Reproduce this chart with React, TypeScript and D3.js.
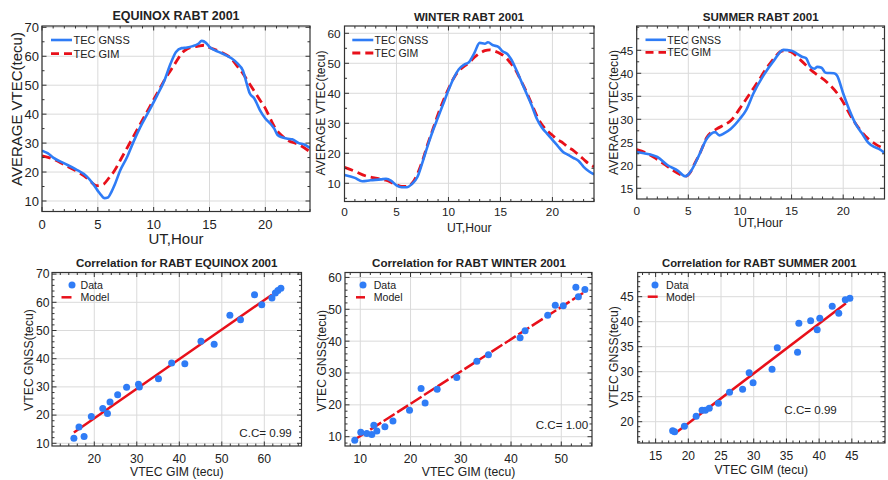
import React from "react";
import * as d3 from "d3";

// ---------------- DATA ----------------
const hourTicks = [0, 5, 10, 15, 20];

// Equinox
const eqGnssHour = [0,0.5,1,2,3,4,4.5,5,5.3,5.6,5.9,6.2,6.5,7,7.6,8.2,8.8,9.5,10.3,11,11.5,12,12.5,13,13.5,14,14.3,14.7,15,15.5,16,16.5,17,17.5,18,18.3,18.6,19,19.5,20,20.5,20.8,21.1,21.5,22,22.4,23,23.5,24];
const eqGnss = [27.4,26.5,25,23,21,18.5,16.3,13.5,12,11,11.2,13,15.5,20.5,25,30.5,35.5,40.5,46.4,52,57.3,61.5,62.8,63,63.5,64.3,65.3,64.6,63.2,62,61.2,60.3,59.2,57.5,55,51,47.2,45.5,41.5,38.5,36.5,35,32.8,32,31.5,31.3,30,29.5,28.3];
const eqGimHour = [0,1,2,3,4,4.5,4.9,5.5,6,6.5,7,8,9,10,10.5,11,11.5,12,12.5,13,14,14.5,15,16,17,17.5,18,18.5,19,19.5,20,20.5,21,21.5,22,23,24];
const eqGim = [25.6,24.5,22.5,20.5,18,16.2,15.3,15.8,18,20.5,24,31,38,45,48.5,52,55,58,61,62.5,63.5,63.8,63,61.5,59,56.5,54,51,48,45,42,38,34.5,32.5,31,29.5,27];
const eqYTicks = [10, 20, 30, 40, 50, 60, 70];

// Winter
const wiGnssHour = [0,1,1.7,2.5,3.5,4,4.5,5,5.5,6,6.5,7,7.5,8,8.5,9,9.5,10,10.5,11,11.5,12,12.5,13,13.5,13.8,14.3,14.8,15.2,15.7,16,16.5,17,17.5,18,18.5,19,19.5,20,20.5,21,21.5,22,22.5,23,23.5,24];
const wiGnss = [12.8,11.8,10.7,11,11.3,11.5,10.8,9.3,8.7,8.7,9.8,12,17,22.5,27.5,32,36.5,41,45,48,49.5,50.5,53.5,56.8,56.5,57,56,55.5,54,53,51.5,48,44,40,36,31.5,28.5,26.5,24.5,22.5,20.5,19.5,18.5,17.5,15.5,14,13];
const wiGimHour = [0,1,2,3,4,5,5.5,6,6.5,7,7.5,8,8.5,9,9.5,10,10.5,11,11.5,12,12.5,13,13.5,14,14.5,15,15.5,16,16.5,17,17.5,18,18.5,19,19.5,20,20.5,21,21.5,22,22.5,23,23.5,24];
const wiGim = [15.3,14,12.5,11.7,11,9.5,9,9,10,13,17.5,23,28,33,37.5,41.5,45,47.5,49,50.2,52,53.3,54.2,54.5,54,53.2,52,50,47.5,44,40.5,36.5,32.5,29.5,27.5,26,24.5,23.5,22,21,19.5,18,16.5,15.5];
const wiYTicks = [10, 20, 30, 40, 50, 60];

// Summer
const suGnssHour = [0,0.7,1.4,2,3,4,4.7,5,5.3,6,6.8,7.6,8,8.5,9.1,10,10.6,11.3,12.3,13.3,14.2,15,15.5,16,16.4,16.8,17.2,17.5,17.9,18.3,19.1,19.4,20,20.6,21.2,21.8,22.4,23,23.5,24];
const suGnss = [22.9,22.6,22.3,21.8,20,18.8,17.6,18,18.9,22,25.8,27.2,26.5,27,27.9,30.1,32,35.6,39.6,42.8,45.1,44.9,44.3,43.6,43.3,41.5,41,41.4,41.2,40.1,40,39.5,35.6,32,29,27,25,24,23.5,22.7];
const suGimHour = [0,1,1.9,2.7,3.5,4.2,4.7,5.2,5.6,6.2,6.8,7.75,8.5,9.1,10.3,11.6,12.9,14.2,14.9,15.9,17.1,18.4,19.7,21,22.4,23.2,24];
const suGim = [23.4,22.6,21.4,20.2,18.9,18,17.6,18.5,20.3,23,26.1,27.9,28.8,29.7,33.4,37.7,42.1,44.9,44.7,42.8,40.3,38.1,34.8,29.7,25.8,24.5,23.6];
const suYTicks = [15, 20, 25, 30, 35, 40, 45];

// Correlation scatter: GIM (x) vs GNSS (y)
const eqScatGim = [15.2,16.4,17.6,19.3,22,23.1,23.7,25.5,27.6,30.4,30.6,35.1,38.2,41.3,45.1,48.2,51.9,54.4,57.7,59.4,61.8,62.6,63.2,63.9];
const eqScatGnss = [11.8,15.8,12.4,19.5,22.3,20.6,24.6,27.2,29.9,30.9,30,32.9,38.5,38.2,46.2,45.1,55.4,53.8,62.7,59.1,61.5,63.3,64.2,65];
const eqModelX = [15.2, 61.8];
const eqModelY = [13.8, 62.7];
const eqScatXTicks = [20, 30, 40, 50, 60];
const eqScatYTicks = [10, 20, 30, 40, 50, 60, 70];

const wiScatGim = [8.9,10.1,11.3,12.3,12.7,13.3,14.9,16.5,19.8,22.1,22.9,25.3,29.2,33.2,35.5,41.8,42.8,47.3,48.8,50.4,52.9,53.4,54.7];
const wiScatGnss = [8.9,11.4,11,10.7,13.6,11.8,13.1,14.9,18.3,25.1,20.6,24.9,28.6,33.7,35.7,41.1,43.3,48.1,51.3,51.1,56.9,53.9,56.2];
const wiModelX = [9.3, 54.5];
const wiModelY = [9.5, 55.3];
const wiScatXTicks = [10, 20, 30, 40, 50];
const wiScatYTicks = [10, 20, 30, 40, 50, 60];

const suScatGim = [17.6,17.9,19.4,21.2,22.1,22.6,23.2,24.6,26.3,28.3,29.3,29.9,32.8,33.6,36.7,36.9,38.7,39.7,40.1,42,43,44,44.7];
const suScatGnss = [18.2,18,19.1,21.1,22.3,22.3,22.7,23.7,25.9,26.5,29.8,27.8,30.5,34.8,33.9,39.7,40.2,38.4,40.7,43.1,41.7,44.4,44.7];
const suModelX = [18.2, 44.1];
const suModelY = [17.9, 43.7];
const suScatXTicks = [15, 20, 25, 30, 35, 40, 45];
const suScatYTicks = [20, 25, 30, 35, 40, 45];

// ---------------- STYLE ----------------
const FONT = "'Liberation Sans', Arial, Helvetica, sans-serif";
const BLUE = "#2f7cf6";
const RED = "#e8101a";
const TXT = "#222";
const GRID = "#dadada";
const FRAME = "#333";

type Cfg = {
  id: string;
  l: number; r: number; t: number; b: number;
  xDom: [number, number]; yDom: [number, number];
  xTicks: number[]; yTicks: number[];
  xMinor: number; yMinor: number;
  title: string; titleX: number; titleY: number; titleFont: number;
  xLabel: string; xLabelY: number;
  yLabel: string; yLabelX: number; yLabelY: number; labelFont: number;
  tickFont: number; xTickY: number; yTickGap: number;
};

function Axes({ cfg, children }: { cfg: Cfg; children: (x: any, y: any) => React.ReactNode }) {
  const x = d3.scaleLinear().domain(cfg.xDom).range([cfg.l, cfg.r]);
  const y = d3.scaleLinear().domain(cfg.yDom).range([cfg.b, cfg.t]);
  const xMinorT = d3.range(Math.ceil(cfg.xDom[0] / cfg.xMinor) * cfg.xMinor, cfg.xDom[1] + 1e-9, cfg.xMinor);
  const yMinorT = d3.range(Math.ceil(cfg.yDom[0] / cfg.yMinor) * cfg.yMinor, cfg.yDom[1] + 1e-9, cfg.yMinor);
  const maj = 4.5, mnr = 2.5;
  return (
    <g fontFamily={FONT} fill={TXT}>
      <defs>
        <clipPath id={"clip-" + cfg.id}>
          <rect x={cfg.l} y={cfg.t} width={cfg.r - cfg.l} height={cfg.b - cfg.t} />
        </clipPath>
      </defs>
      {cfg.xTicks.map((v) => (
        <line key={"gx" + v} x1={x(v)} x2={x(v)} y1={cfg.t} y2={cfg.b} stroke={GRID} strokeWidth={1} />
      ))}
      {cfg.yTicks.map((v) => (
        <line key={"gy" + v} x1={cfg.l} x2={cfg.r} y1={y(v)} y2={y(v)} stroke={GRID} strokeWidth={1} />
      ))}
      <g clipPath={`url(#clip-${cfg.id})`}>{children(x, y)}</g>
      <rect x={cfg.l} y={cfg.t} width={cfg.r - cfg.l} height={cfg.b - cfg.t} fill="none" stroke={FRAME} strokeWidth={1.2} />
      <g stroke={FRAME} strokeWidth={1}>
        {xMinorT.map((v, i) => {
          const len = cfg.xTicks.some((m) => Math.abs(m - v) < 1e-6) ? maj : mnr;
          return (
            <g key={"tx" + i}>
              <line x1={x(v)} x2={x(v)} y1={cfg.b} y2={cfg.b - len} />
              <line x1={x(v)} x2={x(v)} y1={cfg.t} y2={cfg.t + len} />
            </g>
          );
        })}
        {yMinorT.map((v, i) => {
          const len = cfg.yTicks.some((m) => Math.abs(m - v) < 1e-6) ? maj : mnr;
          return (
            <g key={"ty" + i}>
              <line x1={cfg.l} x2={cfg.l + len} y1={y(v)} y2={y(v)} />
              <line x1={cfg.r} x2={cfg.r - len} y1={y(v)} y2={y(v)} />
            </g>
          );
        })}
      </g>
      <g fontSize={cfg.tickFont}>
        {cfg.xTicks.map((v) => (
          <text key={"lx" + v} x={x(v)} y={cfg.xTickY} textAnchor="middle">{v}</text>
        ))}
        {cfg.yTicks.map((v) => (
          <text key={"ly" + v} x={cfg.l - cfg.yTickGap} y={y(v)} dy="0.36em" textAnchor="end">{v}</text>
        ))}
      </g>
      <text x={cfg.titleX} y={cfg.titleY} textAnchor="middle" fontWeight="bold" fontSize={cfg.titleFont}>{cfg.title}</text>
      <text x={(cfg.l + cfg.r) / 2} y={cfg.xLabelY} textAnchor="middle" fontSize={cfg.labelFont}>{cfg.xLabel}</text>
      <text transform={`translate(${cfg.yLabelX},${cfg.yLabelY}) rotate(-90)`} dy="0.36em" textAnchor="middle" fontSize={cfg.labelFont}>{cfg.yLabel}</text>
    </g>
  );
}

function TimePanel({ cfg, gH, gV, mH, mV, leg }: { cfg: Cfg; gH: number[]; gV: number[]; mH: number[]; mV: number[]; leg: { x1: number; x2: number; y1: number; y2: number; tx: number; fs: number } }) {
  return (
    <g>
      <Axes cfg={cfg}>
        {(x, y) => {
          const line = d3.line<number>().x((d: any, i: number) => x(d)).curve(d3.curveMonotoneX);
          const gPath = d3.line<number>().x((d, i) => x(gH[i])).y((d) => y(d)).curve(d3.curveMonotoneX)(gV) || "";
          const mPath = d3.line<number>().x((d, i) => x(mH[i])).y((d) => y(d)).curve(d3.curveMonotoneX)(mV) || "";
          void line;
          return (
            <g fill="none">
              <path d={mPath} stroke={RED} strokeWidth={2.8} strokeDasharray="9 5" />
              <path d={gPath} stroke={BLUE} strokeWidth={2.6} strokeLinejoin="round" />
            </g>
          );
        }}
      </Axes>
      <g fontFamily={FONT} fontSize={leg.fs} fill={TXT}>
        <line x1={leg.x1} x2={leg.x2} y1={leg.y1} y2={leg.y1} stroke={BLUE} strokeWidth={2.6} />
        <text x={leg.tx} y={leg.y1} dy="0.36em">TEC GNSS</text>
        <line x1={leg.x1} x2={leg.x2} y1={leg.y2} y2={leg.y2} stroke={RED} strokeWidth={2.8} strokeDasharray="8 5" />
        <text x={leg.tx} y={leg.y2} dy="0.36em">TEC GIM</text>
      </g>
    </g>
  );
}

function ScatterPanel({ cfg, xs, ys, mx, my, dash, leg, cc }: { cfg: Cfg; xs: number[]; ys: number[]; mx: number[]; my: number[]; dash?: string; leg: { dx: number; dy: number; lx1: number; lx2: number; ly: number; tx: number; fs: number }; cc: { x: number; y: number; text: string; fs: number } }) {
  return (
    <g>
      <Axes cfg={cfg}>
        {(x, y) => (
          <g>
            <line x1={x(mx[0])} y1={y(my[0])} x2={x(mx[1])} y2={y(my[1])} stroke={RED} strokeWidth={2.5} strokeDasharray={dash} />
            {xs.map((v, i) => (
              <circle key={i} cx={x(v)} cy={y(ys[i])} r={3.5} fill={BLUE} />
            ))}
          </g>
        )}
      </Axes>
      <g fontFamily={FONT} fontSize={leg.fs} fill={TXT}>
        <circle cx={leg.dx} cy={leg.dy} r={3.5} fill={BLUE} />
        <text x={leg.tx} y={leg.dy} dy="0.36em">Data</text>
        <line x1={leg.lx1} x2={leg.lx2} y1={leg.ly} y2={leg.ly} stroke={RED} strokeWidth={2.5} strokeDasharray={dash} />
        <text x={leg.tx} y={leg.ly} dy="0.36em">Model</text>
      </g>
      <text x={cc.x} y={cc.y} fontFamily={FONT} fontSize={cc.fs} fill={TXT}>{cc.text}</text>
    </g>
  );
}

const p1: Cfg = {
  id: "p1", l: 42, r: 310, t: 26, b: 211.5, xDom: [0, 24], yDom: [6.37, 70.45],
  xTicks: hourTicks, yTicks: eqYTicks, xMinor: 1, yMinor: 5,
  title: "EQUINOX RABT 2001", titleX: 176, titleY: 20, titleFont: 12.5,
  xLabel: "UT,Hour", xLabelY: 244, yLabel: "AVERAGE VTEC(tecu)", yLabelX: 17, yLabelY: 109, labelFont: 15,
  tickFont: 13, xTickY: 228.5, yTickGap: 3,
};
const p2: Cfg = {
  id: "p2", l: 344.5, r: 594, t: 26, b: 201.5, xDom: [0, 24], yDom: [3.93, 62.43],
  xTicks: hourTicks, yTicks: wiYTicks, xMinor: 1, yMinor: 5,
  title: "WINTER RABT 2001", titleX: 469, titleY: 21.4, titleFont: 11.6,
  xLabel: "UT,Hour", xLabelY: 232, yLabel: "AVERAGE VTEC(tecu)", yLabelX: 321, yLabelY: 113, labelFont: 12.2,
  tickFont: 11.8, xTickY: 216.2, yTickGap: 4,
};
const p3: Cfg = {
  id: "p3", l: 636.7, r: 884.5, t: 26, b: 199, xDom: [0, 24], yDom: [12.67, 50.28],
  xTicks: hourTicks, yTicks: suYTicks, xMinor: 1, yMinor: 2.5,
  title: "SUMMER RABT 2001", titleX: 760.7, titleY: 21.4, titleFont: 11.6,
  xLabel: "UT,Hour", xLabelY: 227, yLabel: "AVERAGE VTEC(tecu)", yLabelX: 614, yLabelY: 112.5, labelFont: 12.2,
  tickFont: 11.8, xTickY: 215, yTickGap: 3.4,
};
const p4: Cfg = {
  id: "p4", l: 52, r: 301.5, t: 272.5, b: 446, xDom: [10.05, 68.75], yDom: [9.04, 70.57],
  xTicks: eqScatXTicks, yTicks: eqScatYTicks, xMinor: 2, yMinor: 2,
  title: "Correlation for RABT EQUINOX 2001", titleX: 176.7, titleY: 267.4, titleFont: 11.6,
  xLabel: "VTEC GIM (tecu)", xLabelY: 476, yLabel: "VTEC GNSS(tecu)", yLabelX: 28.3, yLabelY: 360, labelFont: 12.2,
  tickFont: 12.2, xTickY: 462.6, yTickGap: 2.5,
};
const p5: Cfg = {
  id: "p5", l: 345, r: 592, t: 272.5, b: 446, xDom: [6.96, 56.11], yDom: [7.08, 61.55],
  xTicks: wiScatXTicks, yTicks: wiScatYTicks, xMinor: 2, yMinor: 2,
  title: "Correlation for RABT WINTER 2001", titleX: 469, titleY: 267.4, titleFont: 11.6,
  xLabel: "VTEC GIM (tecu)", xLabelY: 476, yLabel: "VTEC GNSS(tecu)", yLabelX: 321.7, yLabelY: 360.7, labelFont: 12.2,
  tickFont: 12.2, xTickY: 462.6, yTickGap: 3.3,
};
const p6: Cfg = {
  id: "p6", l: 637.7, r: 885, t: 272.5, b: 443, xDom: [12.26, 50.07], yDom: [15.74, 49.84],
  xTicks: suScatXTicks, yTicks: suScatYTicks, xMinor: 1, yMinor: 1,
  title: "Correlation for RABT SUMMER 2001", titleX: 759.3, titleY: 267.4, titleFont: 11.3,
  xLabel: "VTEC GIM (tecu)", xLabelY: 473.6, yLabel: "VTEC GNSS(tecu)", yLabelX: 614, yLabelY: 357, labelFont: 12.2,
  tickFont: 12, xTickY: 460, yTickGap: 4,
};

export default function App() {
  return (
    <svg width={888} height={480} viewBox="0 0 888 480" style={{ position: "absolute", left: 0, top: 0, background: "#fff" }}>
      <rect x={0} y={0} width={888} height={480} fill="#fff" />
      <TimePanel cfg={p1} gH={eqGnssHour} gV={eqGnss} mH={eqGimHour} mV={eqGim}
        leg={{ x1: 51, x2: 72, y1: 40, y2: 53.6, tx: 73.5, fs: 11 }} />
      <TimePanel cfg={p2} gH={wiGnssHour} gV={wiGnss} mH={wiGimHour} mV={wiGim}
        leg={{ x1: 352.3, x2: 373.3, y1: 40, y2: 53, tx: 374.5, fs: 10.5 }} />
      <TimePanel cfg={p3} gH={suGnssHour} gV={suGnss} mH={suGimHour} mV={suGim}
        leg={{ x1: 645.5, x2: 666, y1: 39.8, y2: 52.3, tx: 667.3, fs: 10.5 }} />
      <ScatterPanel cfg={p4} xs={eqScatGim} ys={eqScatGnss} mx={eqModelX} my={eqModelY}
        leg={{ dx: 72, dy: 285, lx1: 61.5, lx2: 71.5, ly: 297.3, tx: 80.5, fs: 10.6 }}
        cc={{ x: 239.3, y: 436.5, text: "C.C= 0.99", fs: 11.6 }} />
      <ScatterPanel cfg={p5} xs={wiScatGim} ys={wiScatGnss} mx={wiModelX} my={wiModelY} dash="13 3"
        leg={{ dx: 363, dy: 285, lx1: 356, lx2: 365, ly: 297.3, tx: 373.7, fs: 10.6 }}
        cc={{ x: 535.7, y: 429, text: "C.C= 1.00", fs: 11.6 }} />
      <ScatterPanel cfg={p6} xs={suScatGim} ys={suScatGnss} mx={suModelX} my={suModelY}
        leg={{ dx: 655, dy: 285, lx1: 647.7, lx2: 657.7, ly: 296.7, tx: 666, fs: 10.6 }}
        cc={{ x: 784.3, y: 414, text: "C.C= 0.99", fs: 11.6 }} />
    </svg>
  );
}
